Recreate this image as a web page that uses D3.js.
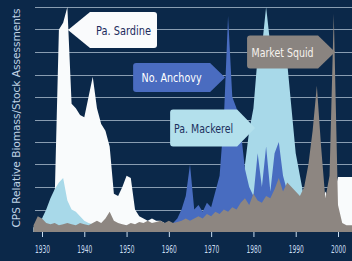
<!DOCTYPE html>
<html>
<head>
<meta charset="utf-8">
<script src="https://cdn.jsdelivr.net/npm/d3@7"></script>
<style>
  html, body { margin: 0; padding: 0; background: #0b2849; }
  svg { display: block; }
</style>
</head>
<body>
<script>
// years 1928 - 2004, one value per year (relative biomass, 0-10)
var years = d3.range(1928, 2005);

var sardine = [
  0.2, 0.3, 0.5, 0.8, 1.2, 1.5, 9.0, 9.3, 10.0, 5.7,   // 1928-37
  5.5, 5.2, 5.1, 6.0, 6.9, 5.5, 4.8, 4.5, 3.8, 1.7,    // 1938-47
  1.6, 2.0, 2.5, 2.4, 1.0, 0.7, 0.6, 0.5, 0.6, 0.5,    // 1948-57
  0.5, 0.4, 0.3, 0.2, 0.1, 0, 0, 0, 0, 0,              // 1958-67
  0, 0, 0, 0, 0, 0, 0, 0, 0, 0,                        // 1968-77
  0, 0, 0, 0, 0, 0, 0, 0, 0, 0,                        // 1978-87
  0, 0.1, 0.2, 0.3, 0.4, 0.5, 0.7, 0.9, 1.2, 1.8,      // 1988-97
  1.4, 1.6, 2.45, 2.45, 2.45, 2.45, 2.45               // 1998-2004
];
var mackerel = [
  0.2, 0.4, 0.6, 1.0, 1.5, 1.9, 2.2, 2.4, 1.4, 1.0,    // 1928-37
  0.9, 0.7, 0.5, 0.4, 0.35, 0.3, 0.3, 0.3, 0.3, 0.3,   // 1938-47
  0.3, 0.3, 0.3, 0.3, 0.3, 0.3, 0.3, 0.3, 0.3, 0.3,    // 1948-57
  0.3, 0.3, 0.3, 0.3, 0.3, 0.3, 0.3, 0.3, 0.3, 0.3,    // 1958-67
  0.3, 0.3, 0.3, 0.3, 0.4, 0.5, 0.6, 0.8, 1.0, 1.5,    // 1968-77
  3.0, 4.5, 5.5, 7.8, 8.2, 10.0, 8.3, 8.0, 8.2, 7.8,   // 1978-87
  7.5, 5.5, 3.5, 2.5, 1.5, 0.9, 0.7, 0.6, 0.5, 0.4,    // 1988-97
  0.3, 0.3, 0.2, 0.2, 0.2, 0.2, 0.2                    // 1998-2004
];
var anchovy = [
  0, 0, 0, 0, 0, 0, 0, 0, 0, 0,                        // 1928-37
  0, 0, 0, 0, 0, 0, 0, 0, 0, 0,                        // 1938-47
  0, 0, 0.1, 0.1, 0.2, 0.2, 0.2, 0.3, 0.3, 0.3,        // 1948-57
  0.3, 0.3, 0.3, 0.4, 0.6, 1.0, 1.6, 3.0, 1.0, 1.2,    // 1958-67
  0.9, 1.3, 1.1, 1.8, 2.5, 5.0, 9.6, 6.0, 5.5, 4.5,    // 1968-77
  2.8, 2.0, 1.6, 3.5, 2.0, 3.8, 1.8, 3.5, 4.0, 2.5,    // 1978-87
  1.8, 1.5, 1.2, 0.9, 0.7, 0.6, 0.5, 0.5, 0.5, 0.4,    // 1988-97
  0.3, 0.3, 0.2, 0.2, 0.2, 0.2, 0.2                    // 1998-2004
];
var squid = [
  0.3, 0.7, 0.6, 0.4, 0.35, 0.4, 0.3, 0.35, 0.4, 0.35, // 1928-37
  0.3, 0.4, 0.35, 0.3, 0.4, 0.5, 0.4, 0.6, 0.9, 0.5,   // 1938-47
  0.4, 0.35, 0.3, 0.4, 0.35, 0.45, 0.4, 0.5, 0.4, 0.45,// 1948-57
  0.5, 0.4, 0.5, 0.4, 0.45, 0.5, 0.6, 0.5, 0.6, 0.7,   // 1958-67
  0.6, 0.8, 0.7, 0.9, 0.8, 1.0, 0.9, 1.1, 1.0, 1.3,    // 1968-77
  1.5, 1.2, 1.7, 1.4, 1.3, 1.6, 1.5, 1.9, 2.4, 1.8,    // 1978-87
  2.2, 2.0, 1.8, 1.6, 2.0, 3.0, 4.5, 6.5, 3.8, 1.5,    // 1988-97
  2.5, 9.7, 1.2, 0.4, 0.3, 0.3, 0.3                    // 1998-2004
];

var tickYears = [1930, 1940, 1950, 1960, 1970, 1980, 1990, 2000];
var gridValues = [1, 2, 3, 4, 5, 6, 7, 8, 9, 10];
var labelNames = ["Pa. Sardine", "No. Anchovy", "Pa. Mackerel", "Market Squid"];

var W = 352, H = 261;

var x = d3.scaleLinear().domain([1930, 2000]).range([42, 338]);
var y = d3.scaleLinear().domain([0, 10]).range([232, 7]);

var svg = d3.select("body").append("svg")
    .attr("width", W)
    .attr("height", H);

svg.append("rect")
    .attr("width", W).attr("height", H)
    .attr("fill", "#0b2849");

// horizontal grid
svg.append("g")
  .selectAll("line")
  .data(gridValues)
  .join("line")
    .attr("x1", 35).attr("x2", W)
    .attr("y1", function(d) { return Math.round(y(d)) + 0.5; })
    .attr("y2", function(d) { return Math.round(y(d)) + 0.5; })
    .attr("stroke", "#b4c4d4")
    .attr("stroke-opacity", 0.75)
    .attr("stroke-width", 1);

var area = function(vals) {
  return d3.area()
    .x(function(d, i) { return x(years[i]); })
    .y0(y(0))
    .y1(function(d) { return y(d); })(vals);
};

// back to front
var layers = [
  { vals: sardine,  fill: "#f9fbfc" },
  { vals: mackerel, fill: "#a8d9e9" },
  { vals: anchovy,  fill: "#486cc0" },
  { vals: squid,    fill: "#8d8681" }
];

svg.append("g")
  .selectAll("path")
  .data(layers)
  .join("path")
    .attr("d", function(d) { return area(d.vals); })
    .attr("fill", function(d) { return d.fill; });

// x axis
var xAxis = d3.axisBottom(x)
    .tickValues(tickYears)
    .tickFormat(d3.format("d"))
    .tickSize(5)
    .tickPadding(9);

var gx = svg.append("g")
    .attr("transform", "translate(0," + y(0) + ")")
    .call(xAxis);
gx.select(".domain").remove();
gx.selectAll(".tick line").attr("stroke", "#c8dcef");
gx.selectAll(".tick text")
    .attr("fill", "#c8dcef")
    .attr("font-family", "DejaVu Sans Condensed")
    .attr("font-size", 10.5)
    .attr("textLength", 15)
    .attr("lengthAdjust", "spacingAndGlyphs");

// y axis title
svg.append("text")
    .attr("transform", "translate(20,118) rotate(-90)")
    .attr("text-anchor", "middle")
    .attr("fill", "#c0d4e6")
    .attr("font-family", "DejaVu Sans Condensed")
    .attr("font-size", 10)
    .attr("textLength", 219)
    .attr("lengthAdjust", "spacingAndGlyphs")
    .text("CPS Relative Biomass/Stock Assessments");

// arrow labels, tip anchored in data space
var labelCfg = [
  { tipYear: 1936.15, tipVal: 8.98, dir: -1, arrow: 22, w: 67, h: 36, fill: "#fafbfc", color: "#1c2b5c", tl: 55 },
  { tipYear: 1973.3,  tipVal: 6.87, dir: 1,  arrow: 15, w: 77, h: 29, fill: "#4a6cc0", color: "#ffffff", tl: 60 },
  { tipYear: 1980.4,  tipVal: 4.62, dir: 1,  arrow: 18, w: 67, h: 37, fill: "#b3e0ec", color: "#1c2f5c", tl: 59 },
  { tipYear: 1999.3,  tipVal: 8.0,  dir: 1,  arrow: 17, w: 71, h: 33, fill: "#8a8480", color: "#f6f2ee", tl: 62 }
];

labelCfg.forEach(function(c, i) {
  var tx = x(c.tipYear), ty = y(c.tipVal);
  var near = tx - c.dir * c.arrow;        // rect edge next to the arrow
  var far = near - c.dir * c.w;           // opposite edge
  var top = ty - c.h / 2, bot = ty + c.h / 2;
  var r = 3 * c.dir;
  var p = d3.path();
  p.moveTo(far + r, top);
  p.lineTo(near, top);
  p.lineTo(tx, ty);
  p.lineTo(near, bot);
  p.lineTo(far + r, bot);
  p.quadraticCurveTo(far, bot, far, bot - 3);
  p.lineTo(far, top + 3);
  p.quadraticCurveTo(far, top, far + r, top);
  p.closePath();

  svg.append("path")
      .attr("d", p.toString())
      .attr("fill", c.fill);

  svg.append("text")
      .attr("x", (near + far) / 2)
      .attr("y", ty)
      .attr("dy", "0.36em")
      .attr("text-anchor", "middle")
      .attr("fill", c.color)
      .attr("font-family", "DejaVu Sans Condensed")
      .attr("font-size", 13)
      .attr("textLength", c.tl)
      .attr("lengthAdjust", "spacingAndGlyphs")
      .text(labelNames[i]);
});
</script>
</body>
</html>
